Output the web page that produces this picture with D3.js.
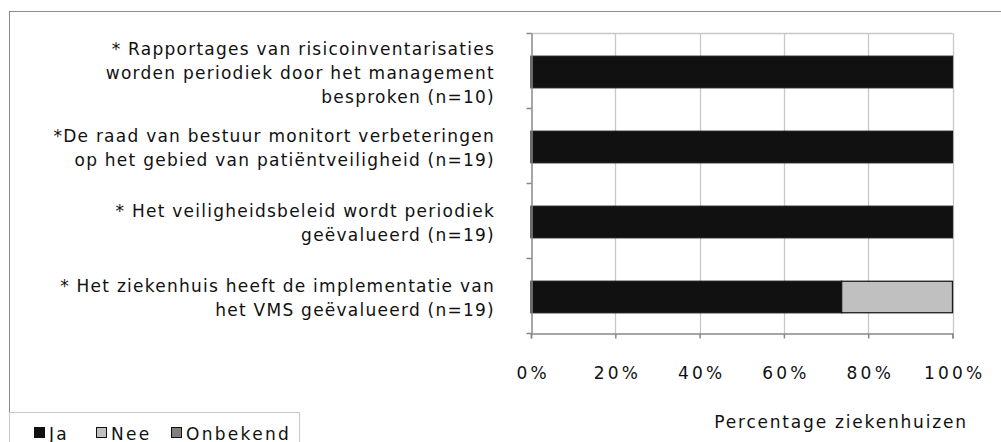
<!DOCTYPE html>
<html>
<head>
<meta charset="utf-8">
<script src="https://cdn.jsdelivr.net/npm/d3@7"></script>
<style>
  body { margin: 0; background: #fff; }
  svg { display: block; font-family: "DejaVu Sans", Verdana, sans-serif; }
</style>
</head>
<body>
<svg id="chart" width="1001" height="442"></svg>
<script>
// chart data
let categories = ["c1", "c2", "c3", "c4"]
let labels = [
  ["* Rapportages van risicoinventarisaties", "worden periodiek door het management", "besproken (n=10)"],
  ["*De raad van bestuur monitort verbeteringen", "op het gebied van patiëntveiligheid (n=19)"],
  ["* Het veiligheidsbeleid wordt periodiek", "geëvalueerd (n=19)"],
  ["* Het ziekenhuis heeft de implementatie van", "het VMS geëvalueerd (n=19)"]
]
let ja = [100, 100, 100, 73.7]
let nee = [0, 0, 0, 26.3]
let onbekend = [0, 0, 0, 0]
let series_names = ["Ja", "Nee", "Onbekend"]
let colors = ["#111111", "#c0c0c0", "#808080"]
let x_ticks = [0, 20, 40, 60, 80, 100]

let svg = d3.select("#chart")
let margin = {top: 33, right: 48, bottom: 109, left: 531}
let width = 1001, height = 442

// outer frame
svg.append("rect")
  .attr("x", 9.5).attr("y", 11.5)
  .attr("width", 1001).attr("height", 440)
  .attr("fill", "none").attr("stroke", "#8c8c8c")

let rows = categories.map((c, i) => ({cat: c, Ja: ja[i], Nee: nee[i], Onbekend: onbekend[i]}))
let stacked = d3.stack().keys(series_names)(rows)

let x = d3.scaleLinear().domain([0, 100]).range([margin.left, width - margin.right - 0.5])
let y = d3.scaleBand().domain(categories)
  .range([margin.top, height - margin.bottom])
  .paddingInner(0.58).paddingOuter(0.29)

// gridlines
svg.append("g").selectAll("line")
  .data(x_ticks.slice(1)).enter()
  .append("line")
  .attr("x1", d => Math.round(x(d)) + 0.5).attr("x2", d => Math.round(x(d)) + 0.5)
  .attr("y1", margin.top).attr("y2", height - margin.bottom)
  .attr("stroke", "#c8c8c8").attr("stroke-width", 1.3)
svg.append("line")
  .attr("x1", margin.left).attr("x2", x(100))
  .attr("y1", margin.top + 0.5).attr("y2", margin.top + 0.5)
  .attr("stroke", "#c8c8c8").attr("stroke-width", 1.3)

// bars
svg.append("g").selectAll("g")
  .data(stacked).enter()
  .append("g")
  .attr("fill", (d, i) => colors[i])
  .selectAll("rect")
  .data(d => d.filter(v => v[1] > v[0])).enter()
  .append("rect")
  .attr("x", d => x(d[0]))
  .attr("y", d => y(d.data.cat) + 1.5)
  .attr("width", d => x(d[1]) - x(d[0]))
  .attr("height", y.bandwidth())
  .attr("stroke", "#1a1a1a")
  .attr("stroke-width", 1.3)

// y axis
let y_axis = d3.axisLeft(y).tickSize(0).tickFormat("")
let yg = svg.append("g").attr("transform", `translate(${margin.left + 0.5},0)`).call(y_axis)
yg.select(".domain").attr("stroke", "#888").attr("stroke-width", 1.5)
let bounds = d3.range(categories.length + 1).map(i => margin.top + i * y.step())
yg.selectAll("line.sep")
  .data(bounds).enter()
  .append("line").attr("class", "sep")
  .attr("x1", -5).attr("x2", 0)
  .attr("y1", d => Math.round(d) + 0.5).attr("y2", d => Math.round(d) + 0.5)
  .attr("stroke", "#888").attr("stroke-width", 1.5)

// x axis
let x_axis = d3.axisBottom(x).tickValues(x_ticks).tickSize(5).tickFormat(d => d + "%").tickPadding(28)
let xg = svg.append("g").attr("transform", `translate(0,${height - margin.bottom + 0.5})`).call(x_axis)
xg.select(".domain").attr("stroke", "#888").attr("stroke-width", 1.5)
xg.selectAll(".tick line").attr("stroke", "#888").attr("stroke-width", 1.5)
xg.selectAll(".tick text")
  .attr("font-family", "DejaVu Sans").attr("font-size", 17).attr("fill", "#111")
  .attr("letter-spacing", 3.2).attr("dx", 1.6)

// category labels
let lab = svg.append("g")
categories.forEach((c, i) => {
  let lines = labels[i]
  let cy = y(c) + y.bandwidth() / 2 + 3
  lines.forEach((t, j) => {
    lab.append("text")
      .attr("x", 495)
      .attr("y", cy + (j - (lines.length - 1) / 2) * 24)
      .attr("dy", "0.35em")
      .attr("text-anchor", "end")
      .attr("font-size", 17)
      .attr("letter-spacing", 1.25)
      .attr("fill", "#111")
      .text(t)
  })
})

// x title
svg.append("text")
  .attr("x", 841).attr("y", 422).attr("dy", "0.35em")
  .attr("text-anchor", "middle")
  .attr("font-size", 17).attr("fill", "#111")
  .attr("letter-spacing", 1.8)
  .text("Percentage ziekenhuizen")

// legend
let lg = svg.append("g")
lg.append("rect")
  .attr("x", 9.5).attr("y", 412.5).attr("width", 290).attr("height", 40)
  .attr("fill", "#fff").attr("stroke", "#c8c8c8")
let leg_x = [34, 96, 171]
series_names.forEach((s, i) => {
  let g = lg.append("g").attr("transform", `translate(${leg_x[i]},433)`)
  g.append("rect").attr("x", 0.5).attr("y", -5.5).attr("width", 10).attr("height", 10)
    .attr("fill", colors[i]).attr("stroke", "#111")
  g.append("text").attr("x", 15).attr("y", 1).attr("dy", "0.35em")
    .attr("font-size", 17).attr("fill", "#111").attr("letter-spacing", 2.3)
    .text(s)
})
</script>
</body>
</html>
